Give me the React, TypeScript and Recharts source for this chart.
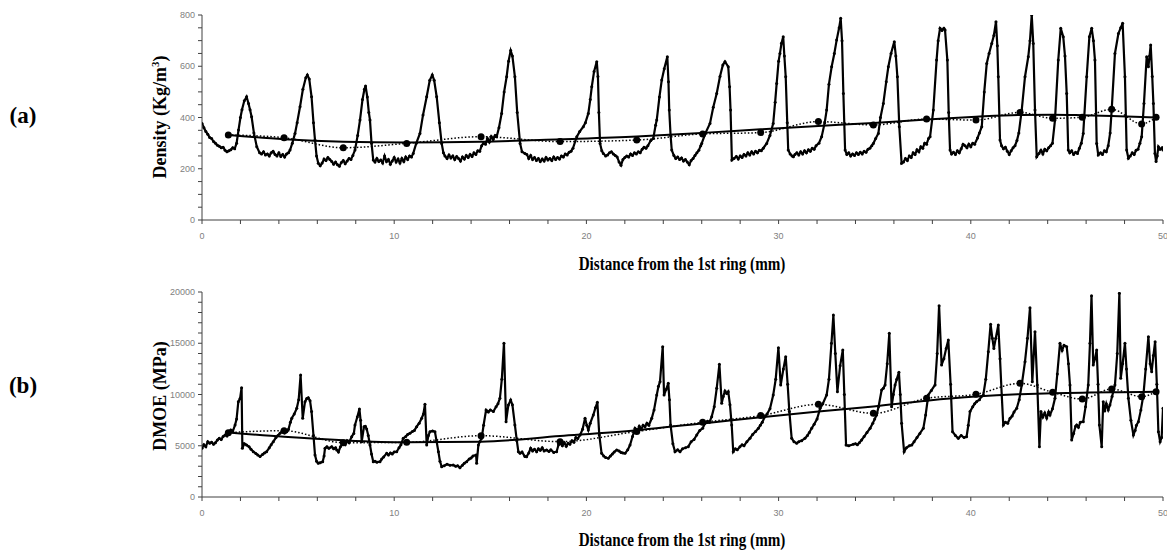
import React from 'react';
import { LineChart, Line, XAxis, YAxis } from 'recharts';

// distance (mm), density (kg/m3)
const densityProfile: [number, number][] = [
  [0, 377], [0.1, 360], [0.2, 345], [0.3, 335], [0.4, 322], [0.5, 318], [0.6, 306], [0.7, 300], [0.8, 292], [0.9, 288],
  [1.0, 282], [1.1, 284], [1.2, 272], [1.3, 266], [1.4, 270], [1.5, 274], [1.6, 282], [1.7, 278], [1.8, 300], [1.9, 351],
  [2.0, 400], [2.08, 430], [2.2, 465], [2.32, 481], [2.42, 455], [2.5, 430], [2.58, 403], [2.7, 340], [2.85, 286], [3.0, 262],
  [3.1, 258], [3.2, 266], [3.3, 254], [3.4, 258], [3.5, 250], [3.6, 262], [3.7, 268], [3.8, 256], [3.9, 250], [4.0, 262],
  [4.1, 248], [4.2, 256], [4.3, 246], [4.4, 258], [4.5, 262], [4.58, 273], [4.7, 300], [4.84, 338], [4.95, 380], [5.1, 442],
  [5.25, 510], [5.4, 555], [5.48, 566], [5.58, 550], [5.7, 481], [5.8, 380], [5.88, 312], [5.96, 250], [6.05, 221], [6.15, 212],
  [6.25, 222], [6.35, 238], [6.45, 232], [6.55, 244], [6.65, 236], [6.75, 228], [6.85, 218], [6.95, 226], [7.05, 216], [7.15, 210],
  [7.25, 224], [7.35, 232], [7.45, 220], [7.55, 230], [7.65, 240], [7.75, 236], [7.85, 252], [7.96, 273], [8.1, 330], [8.22, 390],
  [8.35, 470], [8.45, 510], [8.51, 523], [8.6, 480], [8.68, 420], [8.74, 390], [8.82, 300], [8.91, 234], [9.0, 226], [9.1, 240],
  [9.2, 228], [9.3, 234], [9.4, 222], [9.5, 250], [9.6, 228], [9.7, 236], [9.8, 218], [9.9, 230], [10.0, 244], [10.1, 226],
  [10.2, 238], [10.3, 222], [10.4, 240], [10.5, 228], [10.6, 246], [10.7, 236], [10.8, 250], [10.9, 246], [10.99, 260], [11.15, 300],
  [11.34, 338], [11.5, 410], [11.69, 481], [11.85, 545], [11.98, 566], [12.08, 545], [12.21, 481], [12.35, 380], [12.47, 299], [12.56, 262],
  [12.64, 250], [12.75, 240], [12.85, 254], [12.95, 242], [13.05, 250], [13.15, 236], [13.25, 248], [13.35, 240], [13.45, 230], [13.55, 246],
  [13.65, 238], [13.75, 252], [13.85, 244], [13.95, 256], [14.05, 248], [14.15, 262], [14.25, 256], [14.35, 270], [14.45, 268], [14.55, 290],
  [14.64, 299], [14.75, 296], [14.85, 318], [14.95, 304], [15.05, 326], [15.15, 314], [15.25, 330], [15.33, 325], [15.45, 360], [15.59, 416],
  [15.72, 500], [15.85, 559], [15.95, 620], [16.06, 661], [16.15, 640], [16.28, 559], [16.4, 420], [16.55, 299], [16.65, 266], [16.8, 260],
  [16.9, 256], [17.0, 240], [17.1, 252], [17.2, 236], [17.3, 244], [17.4, 232], [17.5, 240], [17.6, 228], [17.7, 238], [17.8, 230],
  [17.9, 244], [18.0, 234], [18.1, 240], [18.2, 232], [18.3, 246], [18.4, 236], [18.5, 244], [18.6, 238], [18.7, 250], [18.8, 246],
  [18.9, 258], [19.0, 254], [19.1, 264], [19.2, 268], [19.3, 280], [19.5, 325], [19.65, 345], [19.84, 364], [19.95, 380], [20.1, 416],
  [20.2, 470], [20.28, 520], [20.4, 580], [20.54, 618], [20.6, 560], [20.65, 420], [20.71, 299], [20.8, 270], [20.88, 260], [21.0, 250],
  [21.1, 254], [21.2, 262], [21.3, 266], [21.4, 258], [21.5, 252], [21.6, 246], [21.7, 226], [21.8, 214], [21.9, 236], [22.0, 244],
  [22.1, 250], [22.2, 246], [22.3, 258], [22.4, 252], [22.5, 262], [22.6, 258], [22.7, 266], [22.8, 262], [22.9, 276], [23.0, 284],
  [23.1, 280], [23.2, 290], [23.35, 310], [23.48, 318], [23.6, 370], [23.66, 390], [23.8, 480], [23.92, 546], [24.05, 590], [24.21, 637],
  [24.27, 540], [24.31, 429], [24.38, 330], [24.44, 273], [24.55, 252], [24.65, 240], [24.75, 246], [24.85, 236], [24.95, 242], [25.05, 230],
  [25.15, 236], [25.25, 226], [25.35, 216], [25.45, 232], [25.55, 240], [25.65, 252], [25.75, 262], [25.85, 272], [25.95, 290], [26.0, 299],
  [26.2, 340], [26.43, 377], [26.6, 440], [26.78, 494], [26.95, 560], [27.1, 605], [27.21, 618], [27.38, 598], [27.45, 520], [27.5, 429],
  [27.57, 234], [27.68, 240], [27.8, 248], [27.9, 238], [28.0, 250], [28.1, 244], [28.2, 256], [28.3, 250], [28.4, 262], [28.5, 254],
  [28.6, 266], [28.7, 258], [28.8, 268], [28.9, 262], [29.0, 272], [29.1, 270], [29.2, 280], [29.38, 299], [29.55, 330], [29.72, 377],
  [29.82, 460], [29.9, 533], [30.0, 620], [30.07, 650], [30.15, 690], [30.24, 715], [30.3, 640], [30.37, 559], [30.45, 380], [30.5, 273],
  [30.6, 258], [30.7, 250], [30.77, 247], [30.85, 256], [30.95, 262], [31.05, 254], [31.15, 266], [31.25, 258], [31.35, 270], [31.45, 262],
  [31.55, 274], [31.65, 268], [31.75, 280], [31.85, 276], [31.95, 290], [32.1, 300], [32.24, 325], [32.4, 380], [32.5, 429], [32.62, 530],
  [32.76, 598], [32.9, 650], [33.02, 702], [33.15, 750], [33.23, 787], [33.3, 700], [33.37, 494], [33.46, 273], [33.55, 256], [33.65, 262],
  [33.75, 250], [33.85, 258], [33.95, 252], [34.05, 262], [34.15, 256], [34.25, 264], [34.35, 258], [34.45, 268], [34.55, 264], [34.65, 276],
  [34.75, 280], [34.85, 290], [34.93, 299], [35.05, 318], [35.19, 338], [35.3, 400], [35.45, 455], [35.6, 540], [35.71, 598], [35.85, 650],
  [36.02, 696], [36.1, 640], [36.18, 559], [36.28, 364], [36.4, 221], [36.5, 226], [36.6, 240], [36.7, 232], [36.8, 250], [36.9, 244],
  [37.0, 262], [37.1, 256], [37.2, 274], [37.3, 266], [37.4, 286], [37.5, 280], [37.6, 300], [37.7, 296], [37.8, 318], [37.88, 325],
  [38.05, 429], [38.22, 624], [38.3, 700], [38.4, 748], [38.5, 740], [38.6, 748], [38.66, 741], [38.78, 624], [38.85, 420], [38.92, 273],
  [39.0, 258], [39.1, 264], [39.2, 256], [39.3, 270], [39.4, 262], [39.5, 278], [39.6, 296], [39.7, 290], [39.8, 282], [39.9, 296],
  [40.0, 286], [40.1, 300], [40.2, 296], [40.35, 320], [40.45, 340], [40.57, 364], [40.7, 500], [40.83, 611], [40.95, 650], [41.09, 689],
  [41.2, 720], [41.31, 774], [41.38, 680], [41.43, 559], [41.52, 312], [41.6, 290], [41.7, 278], [41.8, 284], [41.9, 268], [42.0, 256],
  [42.1, 270], [42.2, 282], [42.3, 290], [42.4, 310], [42.5, 340], [42.65, 429], [42.82, 559], [42.99, 637], [43.08, 700], [43.17, 800],
  [43.25, 689], [43.34, 429], [43.43, 247], [43.55, 260], [43.65, 272], [43.75, 258], [43.85, 276], [43.95, 270], [44.05, 282], [44.15, 290],
  [44.25, 300], [44.38, 390], [44.55, 624], [44.68, 748], [44.81, 715], [44.9, 640], [44.99, 494], [45.07, 273], [45.15, 262], [45.25, 270],
  [45.35, 256], [45.45, 264], [45.55, 260], [45.65, 280], [45.75, 300], [45.85, 338], [46.03, 559], [46.17, 715], [46.29, 748], [46.38, 700],
  [46.46, 624], [46.55, 299], [46.63, 254], [46.75, 262], [46.85, 256], [46.95, 270], [47.05, 266], [47.15, 290], [47.25, 340], [47.33, 429],
  [47.5, 650], [47.68, 728], [47.8, 750], [47.9, 768], [48.02, 559], [48.11, 273], [48.2, 241], [48.3, 250], [48.4, 262], [48.5, 256],
  [48.6, 272], [48.7, 276], [48.8, 300], [48.89, 325], [49.01, 455], [49.15, 637], [49.24, 598], [49.3, 640], [49.36, 683], [49.44, 560],
  [49.5, 455], [49.58, 260], [49.64, 228], [49.7, 250], [49.76, 286], [49.85, 276], [49.95, 282], [50.0, 273],
];

// distance (mm), DMOE (MPa)
const dmoeProfile: [number, number][] = [
  [0, 4750], [0.1, 5100], [0.2, 4900], [0.3, 5400], [0.4, 5250], [0.5, 5350], [0.6, 5140], [0.7, 5300], [0.8, 5550], [0.9, 5720],
  [1.0, 5600], [1.1, 5900], [1.2, 6050], [1.3, 5950], [1.4, 6300], [1.5, 6540], [1.6, 6400], [1.72, 7020], [1.8, 7600], [1.89, 9300],
  [1.98, 9600], [2.06, 10670], [2.1, 4750], [2.2, 5200], [2.32, 5070], [2.45, 4900], [2.55, 4650], [2.67, 4420], [2.8, 4250], [2.9, 4100],
  [3.02, 3940], [3.15, 4150], [3.25, 4300], [3.36, 4420], [3.5, 4800], [3.6, 5100], [3.71, 5400], [3.85, 5800], [3.95, 6000], [4.06, 6210],
  [4.2, 6500], [4.3, 6250], [4.41, 6370], [4.5, 6600], [4.6, 7300], [4.67, 7680], [4.8, 8100], [4.93, 8650], [5.03, 9500], [5.13, 11900],
  [5.24, 7680], [5.36, 9300], [5.45, 9600], [5.53, 9690], [5.62, 9400], [5.7, 8330], [5.8, 6000], [5.88, 4100], [5.96, 3500], [6.05, 3290],
  [6.15, 3350], [6.28, 3450], [6.35, 4000], [6.4, 4750], [6.5, 4900], [6.6, 4750], [6.75, 4910], [6.85, 4700], [6.95, 4800], [7.01, 4590],
  [7.1, 4400], [7.2, 4900], [7.35, 5240], [7.45, 5100], [7.55, 5500], [7.65, 5300], [7.79, 5890], [7.9, 6200], [7.96, 7020], [8.08, 7800],
  [8.19, 8590], [8.25, 7500], [8.31, 5400], [8.43, 6860], [8.5, 6900], [8.57, 6630], [8.65, 6000], [8.74, 5070], [8.82, 4200], [8.91, 3450],
  [9.0, 3500], [9.1, 3400], [9.26, 3450], [9.35, 3700], [9.45, 3900], [9.61, 4260], [9.7, 4100], [9.8, 4300], [9.9, 4200], [10.0, 4400],
  [10.13, 4420], [10.25, 4800], [10.35, 5100], [10.47, 5720], [10.6, 5900], [10.7, 6100], [10.82, 6210], [10.95, 6400], [11.05, 6500], [11.17, 6860],
  [11.3, 7200], [11.43, 7680], [11.52, 8100], [11.6, 9040], [11.69, 5070], [11.78, 6000], [11.86, 6370], [12.0, 6450], [12.12, 6370], [12.2, 5500],
  [12.3, 4420], [12.38, 3500], [12.47, 2960], [12.6, 3050], [12.75, 3200], [12.9, 3100], [13.07, 3120], [13.2, 3000], [13.3, 3050], [13.42, 2860],
  [13.55, 3100], [13.65, 3300], [13.77, 3450], [13.9, 3700], [14.0, 3800], [14.1, 4000], [14.26, 4100], [14.29, 3290], [14.38, 5070], [14.45, 5400],
  [14.55, 5720], [14.65, 7000], [14.78, 8490], [14.9, 8300], [15.0, 8500], [15.16, 8330], [15.3, 8800], [15.4, 9100], [15.5, 9630], [15.6, 11500],
  [15.71, 14990], [15.82, 7350], [15.94, 8980], [16.06, 9460], [16.15, 9000], [16.28, 7020], [16.38, 5500], [16.46, 4420], [16.55, 4260], [16.65, 4400],
  [16.8, 3940], [16.89, 3935], [17.0, 4300], [17.1, 4750], [17.2, 4500], [17.3, 4650], [17.41, 4420], [17.5, 4700], [17.6, 4550], [17.7, 4800],
  [17.8, 4500], [17.93, 4590], [18.05, 4450], [18.15, 4600], [18.3, 4350], [18.45, 4420], [18.55, 5100], [18.63, 5240], [18.75, 5000], [18.85, 5300],
  [18.95, 4950], [19.05, 5250], [19.14, 5140], [19.25, 5500], [19.35, 5350], [19.45, 5800], [19.55, 5700], [19.67, 6050], [19.8, 6600], [19.93, 7680],
  [20.02, 7000], [20.1, 6540], [20.2, 7200], [20.36, 8000], [20.47, 8700], [20.57, 9240], [20.67, 6050], [20.79, 4260], [20.9, 4000], [21.0, 3850],
  [21.14, 3770], [21.25, 4000], [21.35, 4200], [21.45, 4400], [21.58, 4590], [21.7, 4500], [21.8, 4350], [21.9, 4300], [22.01, 4260], [22.15, 4600],
  [22.27, 5070], [22.4, 5900], [22.53, 6700], [22.65, 6400], [22.75, 6900], [22.85, 6600], [22.95, 7000], [23.05, 6860], [23.15, 7200], [23.25, 7000],
  [23.4, 7680], [23.52, 8500], [23.66, 9950], [23.75, 10800], [23.83, 11250], [23.97, 14670], [24.04, 9950], [24.15, 10500], [24.26, 11090], [24.32, 9500],
  [24.38, 7020], [24.5, 5200], [24.61, 4420], [24.75, 4600], [24.87, 4420], [25.0, 4700], [25.15, 4800], [25.3, 4910], [25.45, 5400], [25.6, 5600],
  [25.74, 6050], [25.9, 6500], [26.05, 6700], [26.17, 7190], [26.3, 7400], [26.4, 7300], [26.52, 7840], [26.65, 8800], [26.78, 10600], [26.92, 12940],
  [27.04, 9140], [27.12, 9800], [27.21, 10340], [27.3, 10100], [27.38, 10280], [27.47, 9000], [27.56, 7020], [27.64, 4420], [27.75, 4700], [27.85, 4600],
  [27.99, 4910], [28.1, 5100], [28.2, 5000], [28.35, 5400], [28.51, 5720], [28.65, 6100], [28.8, 6400], [28.95, 6700], [29.05, 7000], [29.15, 7300],
  [29.29, 7840], [29.4, 8100], [29.55, 8600], [29.72, 9950], [29.85, 11500], [29.99, 14570], [30.11, 10930], [30.25, 12500], [30.37, 13690], [30.47, 11000],
  [30.56, 8330], [30.68, 5720], [30.8, 5400], [30.94, 5240], [31.05, 5400], [31.2, 5500], [31.37, 5720], [31.5, 6000], [31.6, 6300], [31.72, 6700],
  [31.85, 7100], [32.0, 7600], [32.16, 8650], [32.3, 9100], [32.5, 9950], [32.62, 11500], [32.75, 15000], [32.85, 17760], [32.95, 14000], [33.06, 10280],
  [33.2, 12800], [33.34, 14340], [33.42, 10000], [33.51, 5070], [33.65, 5000], [33.89, 5140], [34.0, 5200], [34.1, 5100], [34.2, 5300], [34.32, 5560],
  [34.45, 5900], [34.6, 6300], [34.76, 6700], [34.9, 7200], [35.0, 7600], [35.1, 8000], [35.2, 8800], [35.36, 10440], [35.45, 10600], [35.54, 10930],
  [35.65, 13000], [35.76, 15970], [35.88, 8810], [35.97, 10000], [36.06, 10930], [36.15, 11500], [36.26, 12160], [36.33, 10000], [36.4, 7190], [36.53, 4420],
  [36.65, 4800], [36.8, 5000], [36.93, 5070], [37.05, 5400], [37.2, 5800], [37.35, 6200], [37.53, 6700], [37.65, 8000], [37.79, 9950], [37.95, 10400],
  [38.14, 10930], [38.25, 14000], [38.35, 18670], [38.48, 12880], [38.6, 13500], [38.72, 14500], [38.83, 15320], [38.95, 11000], [39.05, 6370], [39.2, 6000],
  [39.35, 5720], [39.5, 6000], [39.65, 5800], [39.78, 5890], [39.87, 7000], [39.96, 8330], [40.1, 8800], [40.2, 9100], [40.3, 9300], [40.45, 9500],
  [40.55, 9800], [40.65, 9950], [40.78, 11500], [40.91, 14180], [41.03, 16850], [41.12, 15500], [41.2, 14500], [41.3, 15500], [41.43, 16780], [41.52, 13500],
  [41.61, 9950], [41.69, 7020], [41.8, 7300], [41.92, 7200], [42.04, 7680], [42.15, 7900], [42.25, 8300], [42.39, 8650], [42.52, 9500], [42.65, 10930],
  [42.82, 13200], [42.95, 15500], [43.08, 18470], [43.2, 11250], [43.34, 16130], [43.46, 10930], [43.57, 4910], [43.65, 8330], [43.75, 7800], [43.85, 8200],
  [43.95, 7700], [44.05, 8300], [44.12, 8000], [44.25, 8600], [44.38, 9630], [44.5, 12000], [44.64, 14990], [44.75, 14300], [44.85, 14800], [44.99, 14670],
  [45.08, 13000], [45.16, 10930], [45.25, 5560], [45.35, 6200], [45.45, 6900], [45.51, 7020], [45.6, 6800], [45.7, 7300], [45.85, 7350], [45.97, 8800],
  [46.11, 10930], [46.2, 15000], [46.28, 19640], [46.37, 12880], [46.46, 13500], [46.55, 14340], [46.62, 11000], [46.69, 7020], [46.81, 4910], [46.89, 9300],
  [46.97, 8400], [47.05, 9100], [47.15, 8500], [47.24, 8980], [47.35, 9800], [47.5, 10930], [47.62, 14000], [47.73, 19870], [47.8, 11580], [47.9, 13000],
  [48.02, 14990], [48.1, 12500], [48.2, 9630], [48.33, 7500], [48.46, 6050], [48.55, 6500], [48.62, 7000], [48.72, 7350], [48.85, 8500], [48.98, 9950],
  [49.1, 12500], [49.24, 15640], [49.33, 13000], [49.41, 12230], [49.5, 13800], [49.59, 15150], [49.68, 11000], [49.76, 6370], [49.85, 5400], [49.93, 5800],
  [50.0, 8650],
];

// ring positions with ring averages (dotted) and fitted trend (solid)
const ringX = [1.37, 4.27, 7.35, 10.65, 14.52, 18.63, 22.62, 26.05, 29.07, 32.07, 34.93, 37.7, 40.27, 42.56, 44.26, 45.8, 47.33, 48.89, 49.64];
const densityRingAvg = [332, 321, 282, 299, 325, 306, 312, 336, 341, 384, 371, 394, 390, 420, 397, 401, 432, 375, 401];
const densityTrend = [332, 315, 305, 302, 305, 315, 326, 340, 354, 367, 379, 392, 403, 410, 411, 409, 406, 402, 400];
const dmoeRingAvg = [6280, 6470, 5300, 5330, 5980, 5400, 6400, 7290, 7940, 9040, 8160, 9630, 10020, 11090, 10210, 9560, 10540, 9790, 10280];
const dmoeTrend = [6300, 5870, 5530, 5340, 5400, 5950, 6520, 7180, 7780, 8350, 8840, 9400, 9800, 10030, 10130, 10180, 10220, 10250, 10270];

const xTicks = [0, 2, 4, 6, 8, 10, 12, 14, 16, 18, 20, 22, 24, 26, 28, 30, 32, 34, 36, 38, 40, 42, 44, 46, 48, 50];
const densityTicks = [0, 50, 100, 150, 200, 250, 300, 350, 400, 450, 500, 550, 600, 650, 700, 750, 800];
const dmoeTicks = [0, 1000, 2000, 3000, 4000, 5000, 6000, 7000, 8000, 9000, 10000, 11000, 12000, 13000, 14000, 15000, 16000, 17000, 18000, 19000, 20000];

const AXIS = '#404040';
const TICK_TEXT = '#808080';
const TICK_FONT = '"Liberation Sans", Arial, sans-serif';
const TITLE_FONT = '"Liberation Serif", "Times New Roman", serif';

const XTick = (props: any) => {
  const { x, y, payload } = props;
  const major = payload.value % 10 === 0;
  return (
    <g>
      <line x1={x} y1={y} x2={x} y2={y + 4} stroke={AXIS} strokeWidth={1} />
      {major && (
        <text x={x} y={y + 16} dy="0.35em" textAnchor="middle" fontSize={9} fill={TICK_TEXT} fontFamily={TICK_FONT}>
          {payload.value}
        </text>
      )}
    </g>
  );
};

const makeYTick = (step: number) => (props: any) => {
  const { x, y, payload } = props;
  const major = payload.value % step === 0;
  return (
    <g>
      <line x1={x - 4} y1={y} x2={x} y2={y} stroke={AXIS} strokeWidth={1} />
      {major && (
        <text x={x - 7} y={y} dy="0.35em" textAnchor="end" fontSize={9} fill={TICK_TEXT} fontFamily={TICK_FONT}>
          {payload.value}
        </text>
      )}
    </g>
  );
};

interface PanelProps {
  profile: { x: number; y: number }[];
  rings: { x: number; avg: number; trend: number }[];
  yMax: number;
  yTicks: number[];
  yStep: number;
  top: number;
  height: number;
  marginTop: number;
}

const Panel: React.FC<PanelProps> = ({ profile, rings, yMax, yTicks, yStep, top, height, marginTop }) => (
  <div style={{ position: 'absolute', left: 0, top }}>
    <LineChart width={1167} height={height} margin={{ top: marginTop, right: 4, bottom: 25, left: 0 }}>
      <XAxis
        dataKey="x"
        type="number"
        domain={[0, 50]}
        ticks={xTicks}
        interval={0}
        height={30}
        stroke={AXIS}
        tickLine={false}
        tickSize={0}
        tickMargin={0}
        tick={XTick}
        allowDataOverflow
      />
      <YAxis
        type="number"
        domain={[0, yMax]}
        ticks={yTicks}
        interval={0}
        width={202}
        stroke={AXIS}
        tickLine={false}
        tickSize={0}
        tickMargin={0}
        tick={makeYTick(yStep)}
        allowDataOverflow
      />
      <Line
        data={profile}
        dataKey="y"
        type="linear"
        stroke="#000"
        strokeWidth={2.2}
        dot={{ r: 1.5, fill: '#000', stroke: 'none' }}
        isAnimationActive={false}
      />
      <Line
        data={rings}
        dataKey="avg"
        type="monotone"
        stroke="#000"
        strokeWidth={1.5}
        strokeDasharray="1.5 2"
        dot={{ r: 3.5, fill: '#000', stroke: 'none' }}
        isAnimationActive={false}
      />
      <Line
        data={rings}
        dataKey="trend"
        type="monotone"
        stroke="#000"
        strokeWidth={2}
        dot={false}
        isAnimationActive={false}
      />
    </LineChart>
  </div>
);

const toPoints = (arr: [number, number][]) => arr.map(([x, y]) => ({ x, y }));

const densityData = toPoints(densityProfile);
const dmoeData = toPoints(dmoeProfile);
const densityRings = ringX.map((x, i) => ({ x, avg: densityRingAvg[i], trend: densityTrend[i] }));
const dmoeRings = ringX.map((x, i) => ({ x, avg: dmoeRingAvg[i], trend: dmoeTrend[i] }));

const titleStyle: React.CSSProperties = {
  position: 'absolute',
  fontFamily: TITLE_FONT,
  fontWeight: 'bold',
  whiteSpace: 'nowrap',
  color: '#000',
  lineHeight: 1,
};

const yTitle = (left: number, top: number): React.CSSProperties => ({
  ...titleStyle,
  left,
  top,
  fontSize: 18,
  transform: 'translate(-50%, -50%) rotate(-90deg)',
});

const xTitle = (top: number): React.CSSProperties => ({
  ...titleStyle,
  left: 682,
  top,
  fontSize: 18,
  transform: 'translate(-50%, -50%) scaleX(0.84)',
});

const panelTag = (top: number): React.CSSProperties => ({
  ...titleStyle,
  left: 23,
  top,
  fontSize: 23,
  transform: 'translate(-50%, -50%)',
});

export default function App() {
  return (
    <div style={{ position: 'absolute', left: 0, top: 0, width: 1167, height: 552, background: '#fff', overflow: 'hidden' }}>
      <Panel profile={densityData} rings={densityRings} yMax={800} yTicks={densityTicks} yStep={200} top={0} height={275} marginTop={15} />
      <Panel profile={dmoeData} rings={dmoeRings} yMax={20000} yTicks={dmoeTicks} yStep={5000} top={275} height={277} marginTop={17} />

      <div style={panelTag(115)}>(a)</div>
      <div style={panelTag(385)}>(b)</div>

      <div style={yTitle(160, 117)}>
        Density (Kg/m<sup style={{ fontSize: '0.6em', lineHeight: 0 }}>3</sup>)
      </div>
      <div style={yTitle(160, 396)}>DMOE (MPa)</div>

      <div style={xTitle(264)}>Distance from the 1st ring (mm)</div>
      <div style={xTitle(540)}>Distance from the 1st ring (mm)</div>
    </div>
  );
}
